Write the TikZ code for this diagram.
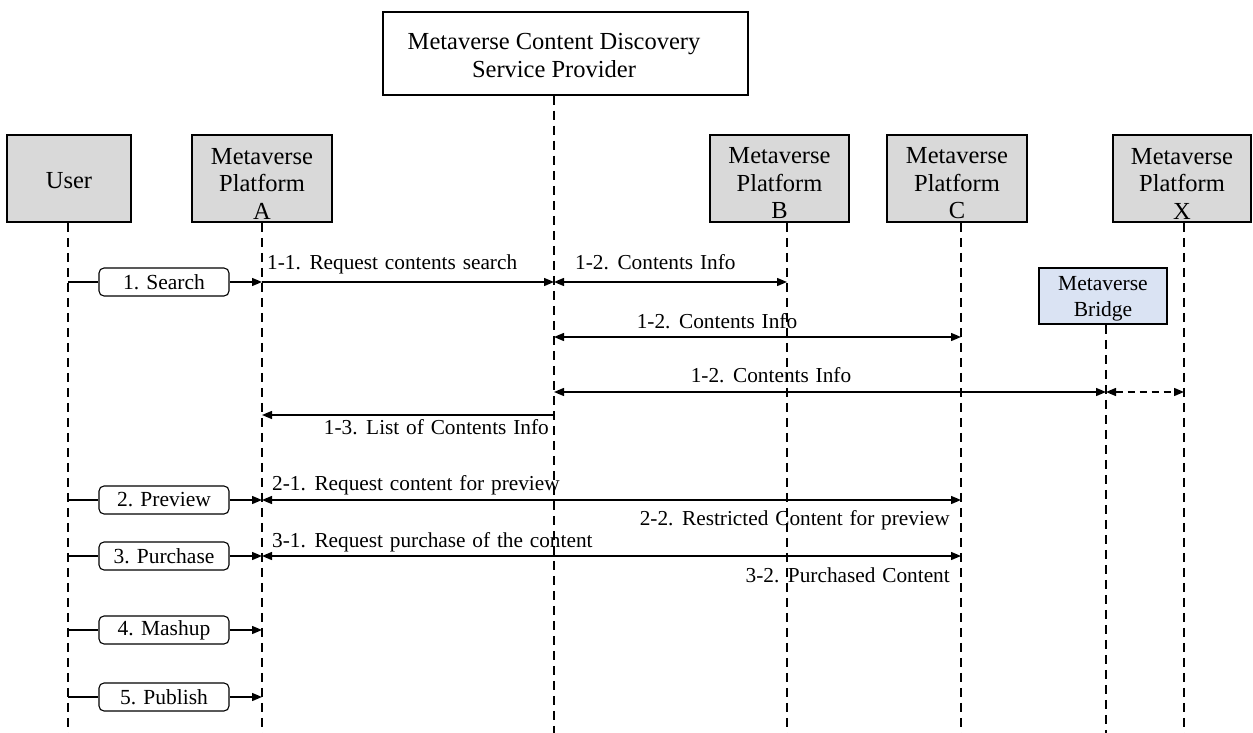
\documentclass[tikz,border=0pt]{standalone}
\usepackage{fontspec}
\setmainfont{Liberation Serif}
\usetikzlibrary{arrows.meta}
\definecolor{boxgray}{HTML}{D9D9D9}
\definecolor{bridgeblue}{HTML}{DAE3F3}
% message label font with slightly wider word spaces
\newcommand{\msgfont}{\fontsize{21.3}{24}\selectfont\spaceskip=0.32em plus 0.1em\relax}
% three-line participant caption, set a little below the box centre
\newcommand{\plat}[2]{\parbox{#1}{\centering\vspace*{10pt}Metaverse\\Platform\\#2}}
\begin{document}
\begin{tikzpicture}[x=1pt,y=-1pt,
  actor/.style={draw, line width=1.5pt, fill=boxgray, minimum width=#1, minimum height=87pt,
    inner sep=0pt, align=center, font=\fontsize{24.5}{27.5}\selectfont},
  topbox/.style={draw, line width=1.5pt, fill=white, minimum width=365pt, minimum height=83pt, inner sep=0pt},
  bridgebox/.style={draw, line width=1.5pt, fill=bridgeblue, minimum width=128pt, minimum height=56pt,
    inner sep=0pt, align=center, font=\fontsize{21.5}{26}\selectfont},
  actbox/.style={draw, line width=1.1pt, fill=white, rounded corners=5pt, minimum width=130pt,
    minimum height=28pt, inner sep=0pt, font=\fontsize{21.5}{24}\selectfont},
  lifeline/.style={line width=1.8pt, dash pattern=on 9pt off 6pt},
  msg/.style={line width=1.4pt},
  tip/.style={-{Triangle[length=10pt,width=8pt]}},
  both/.style={{Triangle[length=10pt,width=8pt]}-{Triangle[length=10pt,width=8pt]}},
  lbl/.style={inner sep=0pt, font=\msgfont},
]
\useasboundingbox (0,0) rectangle (1253,733);

% participants
\node[topbox] (sp) at (565.5,53.5) {};
\node[align=center, inner sep=0pt, font=\fontsize{24.5}{28}\selectfont] (sptext) at (554,56)
  {Metaverse Content Discovery\\Service Provider};
\node[actor=124pt] (user) at (69,178.5) {\parbox{124pt}{\centering\vspace*{4pt}User}};
\node[actor=140pt] (pa) at (262,178.5) {\plat{140pt}{A}};
\node[actor=139pt] (pb) at (779.5,178.5) {\plat{139pt}{B}};
\node[actor=140pt] (pc) at (957,178.5) {\plat{140pt}{C}};
\node[actor=138pt] (px) at (1182,178.5) {\plat{138pt}{X}};
\node[bridgebox] (br) at (1103,296) {\parbox{128pt}{\centering\vspace*{6pt}Metaverse\\Bridge}};

% lifeline ends
\coordinate (lu) at (68,733);
\coordinate (la) at (262,733);
\coordinate (ls) at (554,733);
\coordinate (lb) at (787,733);
\coordinate (lc) at (961,733);
\coordinate (lx) at (1184,733);
\coordinate (lr) at (1106,733);

\draw[lifeline] (user.south -| lu) -- (lu);
\draw[lifeline] (pa.south -| la) -- (la);
\draw[lifeline] (sp.south -| ls) -- (ls);
\draw[lifeline] (pb.south -| lb) -- (lb);
\draw[lifeline] (pc.south -| lc) -- (lc);
\draw[lifeline] (px.south -| lx) -- (lx);
\draw[lifeline] (br.south -| lr) -- (lr);

% message anchor points on the lifelines
\coordinate (u1) at (68,282);   \coordinate (a1) at (262,282);
\coordinate (s1) at (554,282);  \coordinate (b1) at (787,282);
\coordinate (s2) at (554,337);  \coordinate (c2) at (961,337);
\coordinate (s3) at (554,392);  \coordinate (r3) at (1106,392);  \coordinate (x3) at (1184,392);
\coordinate (s4) at (554,415);  \coordinate (a4) at (262,415);
\coordinate (u5) at (68,500);   \coordinate (a5) at (262,500);  \coordinate (c5) at (961,500);
\coordinate (u6) at (68,556);   \coordinate (a6) at (262,556);  \coordinate (c6) at (961,556);
\coordinate (u7) at (68,630);   \coordinate (a7) at (262,630);
\coordinate (u8) at (68,697);   \coordinate (a8) at (262,697);

% user actions
\node[actbox] (search) at (164,282) {1. Search};
\node[actbox] (preview) at (164,500) {2. Preview};
\node[actbox] (purchase) at (164,556) {3. Purchase};
\node[actbox] (mashup) at (164,630) {4. Mashup};
\node[actbox] (publish) at (164,697) {5. Publish};

\draw[msg] (u1) -- (search.west);  \draw[msg,tip] (search.east) -- (a1);
\draw[msg] (u5) -- (preview.west); \draw[msg,tip] (preview.east) -- (a5);
\draw[msg] (u6) -- (purchase.west); \draw[msg,tip] (purchase.east) -- (a6);
\draw[msg] (u7) -- (mashup.west);  \draw[msg,tip] (mashup.east) -- (a7);
\draw[msg] (u8) -- (publish.west); \draw[msg,tip] (publish.east) -- (a8);

% discovery messages
\draw[msg,tip] (a1) -- (s1);
\draw[msg,both] (s1) -- (b1);
\draw[msg,both] (s2) -- (c2);
\draw[msg,both] (s3) -- (r3);
\draw[msg,both,dash pattern=on 7pt off 5pt] (r3) -- (x3);
\draw[msg,tip] (s4) -- (a4);
\draw[msg,both] (a5) -- (c5);
\draw[msg,both] (a6) -- (c6);

% message labels
\node[lbl, anchor=base west] (l11) at (267,269) {1-1. Request contents search};
\node[lbl, anchor=base west] (l12a) at (575,269) {1-2. Contents Info};
\node[lbl, anchor=base] (l12b) at (717,328) {1-2. Contents Info};
\node[lbl, anchor=base] (l12c) at (771,382) {1-2. Contents Info};
\node[lbl, anchor=base east] (l13) at (549,434) {1-3. List of Contents Info};
\node[lbl, anchor=base west] (l21) at (272,490) {2-1. Request content for preview};
\node[lbl, anchor=base east] (l22) at (950,525) {2-2. Restricted Content for preview};
\node[lbl, anchor=base west] (l31) at (272,547) {3-1. Request purchase of the content};
\node[lbl, anchor=base east] (l32) at (950,582) {3-2. Purchased Content};
\end{tikzpicture}
\end{document}
